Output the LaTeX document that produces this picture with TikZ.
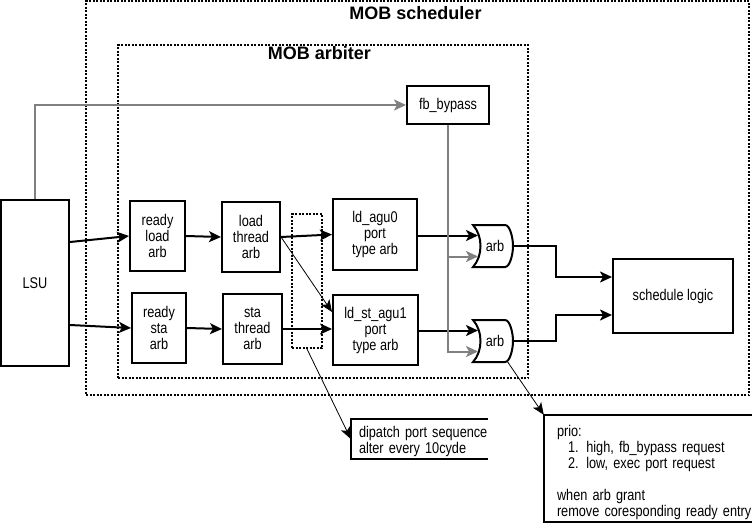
\documentclass[tikz,border=0pt]{standalone}
\usepackage{fontspec}
\setmainfont{Liberation Sans}
\newfontfamily\boxfont{Liberation Sans}[FakeStretch=0.82]
\usetikzlibrary{arrows.meta,positioning,calc}

\begin{document}
\begin{tikzpicture}[
  x=1pt, y=-1pt,
  % === Node styles ===
  blk/.style={
    draw, line width=2pt, align=center, inner sep=2pt,
    font=\boxfont\fontsize{15.5}{16}\selectfont
  },
  frame/.style={draw, line width=2pt, dash pattern=on 2pt off 1.5pt, inner sep=0pt},
  title/.style={font=\fontsize{18}{22}\selectfont\bfseries},
  memo/.style={
    align=left, inner ysep=0pt,
    font=\boxfont\fontsize{15.5}{16}\selectfont
  },
  % === Arrow styles ===
  arr/.style={-{Stealth[length=12pt, width=11pt, inset=3pt]}, line width=2pt},
  byp/.style={arr, gray},
  thinarr/.style={-{Stealth[length=12pt, width=10pt, inset=3pt]}, line width=0.8pt},
  bracket/.style={line width=2pt},
]
\useasboundingbox (0,0) rectangle (752,525);

% =============================================
% Dotted groupings
% =============================================
\node[frame, minimum width=663pt, minimum height=394pt] (mobsch) at (417.5,198) {};
\node[title] (schtitle) at (415.5,13) {MOB scheduler};

\node[frame, minimum width=410pt, minimum height=333pt] (mobarb) at (323,211.5) {};
\node[title] (arbtitle) at (319.5,53) {MOB arbiter};

\node[frame, minimum width=30pt, minimum height=134pt] (seq) at (307,281) {};

% =============================================
% Blocks
% =============================================
\node[blk, minimum width=68pt, minimum height=166pt] (lsu) at (35,283) {LSU};
\node[blk, minimum width=82pt, minimum height=38pt] (fbb) at (448,105) {fb\_bypass};

\node[blk, minimum width=55pt, minimum height=70pt] (rla) at (157.5,236) {ready\\load\\arb};
\node[blk, minimum width=58pt, minimum height=70pt] (lta) at (251,237) {load\\thread\\arb};
\node[blk, minimum width=54pt, minimum height=70pt] (rsa) at (159,328) {ready\\sta\\arb};
\node[blk, minimum width=59pt, minimum height=70pt] (sta) at (252.5,329) {sta\\thread\\arb};

\node[blk, minimum width=84pt, minimum height=71pt] (agu0) at (375,234.5) {ld\_agu0\\port\\type arb};
\node[blk, minimum width=85pt, minimum height=70pt] (agu1) at (375.5,330) {ld\_st\_agu1\\port\\type arb};

\node[blk, minimum width=120pt, minimum height=74pt] (sl) at (673,296) {schedule logic};

% arb gates
\foreach \g/\yc in {arb0/246, arb1/341} {
  \begin{scope}[shift={(493,\yc)}]
    \draw[line width=2pt] (-20,-21) -- (12,-21)
      .. controls (17,-21) and (20,-8) .. (20,0)
      .. controls (20,8) and (17,21) .. (12,21) -- (-20,21)
      .. controls (-10,10) and (-10,-10) .. cycle;
    \node[font=\boxfont\fontsize{15.5}{16}\selectfont] (\g) at (2,0) {arb};
    \coordinate (\g-in1) at (-15,-10.5);
    \coordinate (\g-in2) at (-15,10.5);
    \coordinate (\g-out) at (20,0);
    \coordinate (\g-bot) at (14,20);
  \end{scope}
}

% =============================================
% Notes
% =============================================
\node[memo, inner xsep=8pt, text width=121pt, text height=17pt, minimum height=40pt] (note1) at (419.5,439)
  {\mbox{dipatch port sequence}\\alter every 10cyde};
\draw[bracket] (note1.north east) -- (note1.north west) -- (note1.south west) -- (note1.south east);

\node[memo, inner xsep=13pt, text width=200pt, text height=20pt, minimum height=107pt] (note2) at (657,468.5)
  {prio:\\
   \hspace*{11pt}1. high, fb\_bypass request\\
   \hspace*{11pt}2. low, exec port request\\[16pt]
   when arb grant\\
   remove coresponding ready entry};
\draw[bracket] (note2.north east) -- (note2.north west) -- (note2.south west) -- (note2.south east);

% =============================================
% Arrows
% =============================================
\draw[arr] ([yshift=41pt]lsu.east) -- (rla.west);
\draw[arr] ([yshift=-42pt]lsu.east) -- (rsa.west);
\draw[arr] (rla.east) -- (lta.west);
\draw[arr] (rsa.east) -- (sta.west);
\draw[arr] (lta.east) -- (agu0.west);
\draw[thinarr] (lta.east) -- ([yshift=18pt]agu1.west);
\draw[arr] (sta.east) -- (sta.east -| agu1.west);

\draw[arr] (agu0.east |- arb0-in1) -- (arb0-in1);
\draw[arr] (agu1.east |- arb1-in1) -- (arb1-in1);

\draw[arr] (arb0-out) -- ++(43,0) |- ([yshift=19pt]sl.west);
\draw[arr] (arb1-out) -- ++(43,0) |- ([yshift=-19pt]sl.west);

% fb bypass path
\draw[byp] (lsu.north) |- (fbb.west);
\draw[byp] (fbb.south) |- (arb1-in2);
\draw[byp] (fbb.south |- arb0-in2) -- (arb0-in2);

% note pointers
\draw[thinarr] (seq.south) -- (note1.west);
\draw[thinarr] (arb1-bot) -- (note2.north west);

\end{tikzpicture}
\end{document}
